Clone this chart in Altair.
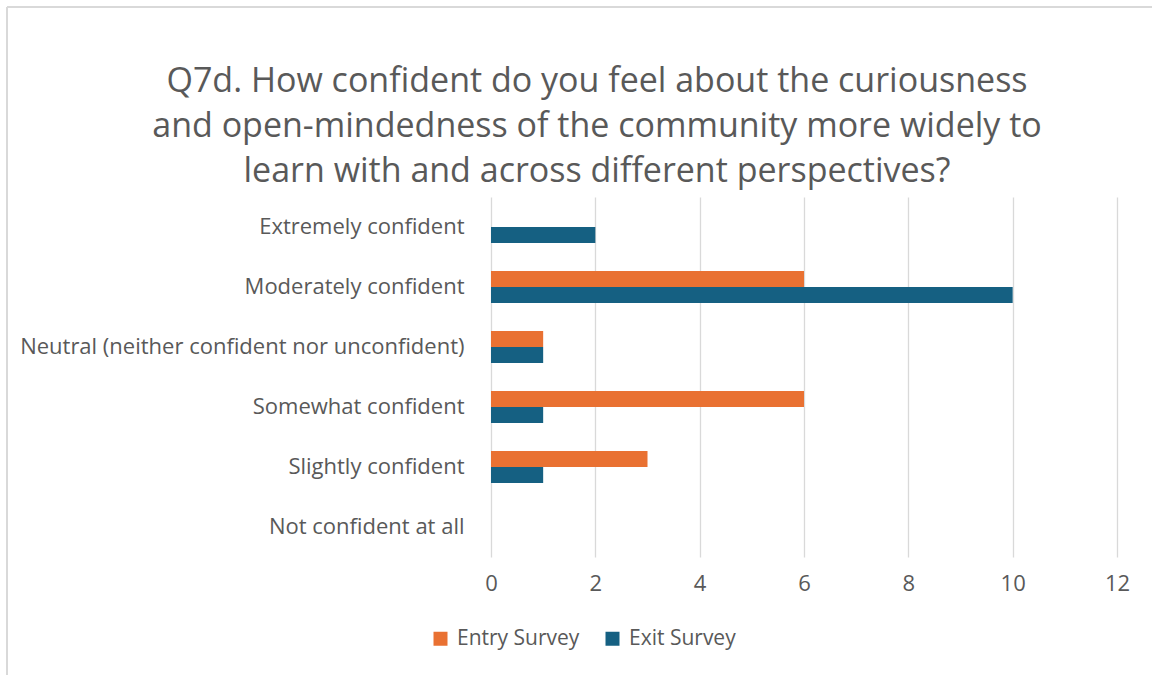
import altair as alt
import pandas as pd

categories = [
    "Extremely confident",
    "Moderately confident",
    "Neutral (neither confident nor unconfident)",
    "Somewhat confident",
    "Slightly confident",
    "Not confident at all",
]
entry_values = [0, 6, 1, 6, 3, 0]
exit_values = [2, 10, 1, 1, 1, 0]
series = ["Entry Survey", "Exit Survey"]
colors = ["#E97132", "#156082"]
x_ticks = [0, 2, 4, 6, 8, 10, 12]
title_lines = [
    "Q7d. How confident do you feel about the curiousness",
    "and open-mindedness of the community more widely to",
    "learn with and across different perspectives?",
]

rows = []
for c, v in zip(categories, entry_values):
    rows.append({"category": c, "survey": series[0], "count": v})
for c, v in zip(categories, exit_values):
    rows.append({"category": c, "survey": series[1], "count": v})
df = pd.DataFrame(rows)

FONT = "Open Sans"
TXT = "#595959"
FS = 22

bars = alt.Chart(df).mark_bar().encode(
    y=alt.Y(
        "category:N",
        sort=categories,
        title=None,
        scale=alt.Scale(paddingInner=0.4667, paddingOuter=0.2333),
        axis=alt.Axis(
            domain=False, ticks=False, grid=False, labelPadding=27,
            labelFontSize=FS, labelColor=TXT, labelFont=FONT, labelLimit=600,
        ),
    ),
    yOffset=alt.YOffset("survey:N", sort=series, scale=alt.Scale(paddingInner=0, paddingOuter=0)),
    x=alt.X(
        "count:Q",
        title=None,
        scale=alt.Scale(domain=[0, 12], nice=False),
        axis=alt.Axis(
            values=x_ticks, domain=False, ticks=False, grid=True,
            gridColor="#D9D9D9", gridWidth=1.3, labelPadding=16, labelFlush=False,
            labelFontSize=FS, labelColor=TXT, labelFont=FONT,
        ),
    ),
    color=alt.Color(
        "survey:N",
        sort=series,
        scale=alt.Scale(domain=series, range=colors),
        legend=alt.Legend(
            title=None, orient="none", direction="horizontal",
            legendX=-61, legendY=431, symbolType="square", symbolSize=196,
            symbolStrokeWidth=0, labelFontSize=21, labelColor=TXT, labelFont=FONT,
            labelOffset=6, columnPadding=22,
        ),
    ),
)

border_top = alt.Chart(df).mark_rule(color="#D9D9D9", strokeWidth=1.5).encode(
    x=alt.value(-484), x2=alt.value(700), y=alt.value(-190)
)
border_left = alt.Chart(df).mark_rule(color="#D9D9D9", strokeWidth=1.5).encode(
    x=alt.value(-484), y=alt.value(-190), y2=alt.value(500)
)

title_df = pd.DataFrame({"line": title_lines, "idx": list(range(len(title_lines)))})
title_text = alt.Chart(title_df).mark_text(
    font=FONT, fontSize=34, color=TXT, align="center", baseline="alphabetic"
).encode(
    text="line:N",
    x=alt.value(106),
    y=alt.Y("idx:Q", scale=alt.Scale(domain=[0, 2], range=[-105, -15]), axis=None),
)

chart = alt.layer(border_top, border_left, title_text, bars).resolve_scale(
    y="independent"
).properties(
    width=626,
    height=360,
    padding={"left": 491, "top": 197, "right": 35, "bottom": 118},
    autosize=alt.AutoSizeParams(type="none"),
    background="white",
).configure_view(stroke=None)

chart.save("out.html", embed_options={"renderer": "svg", "actions": False})
